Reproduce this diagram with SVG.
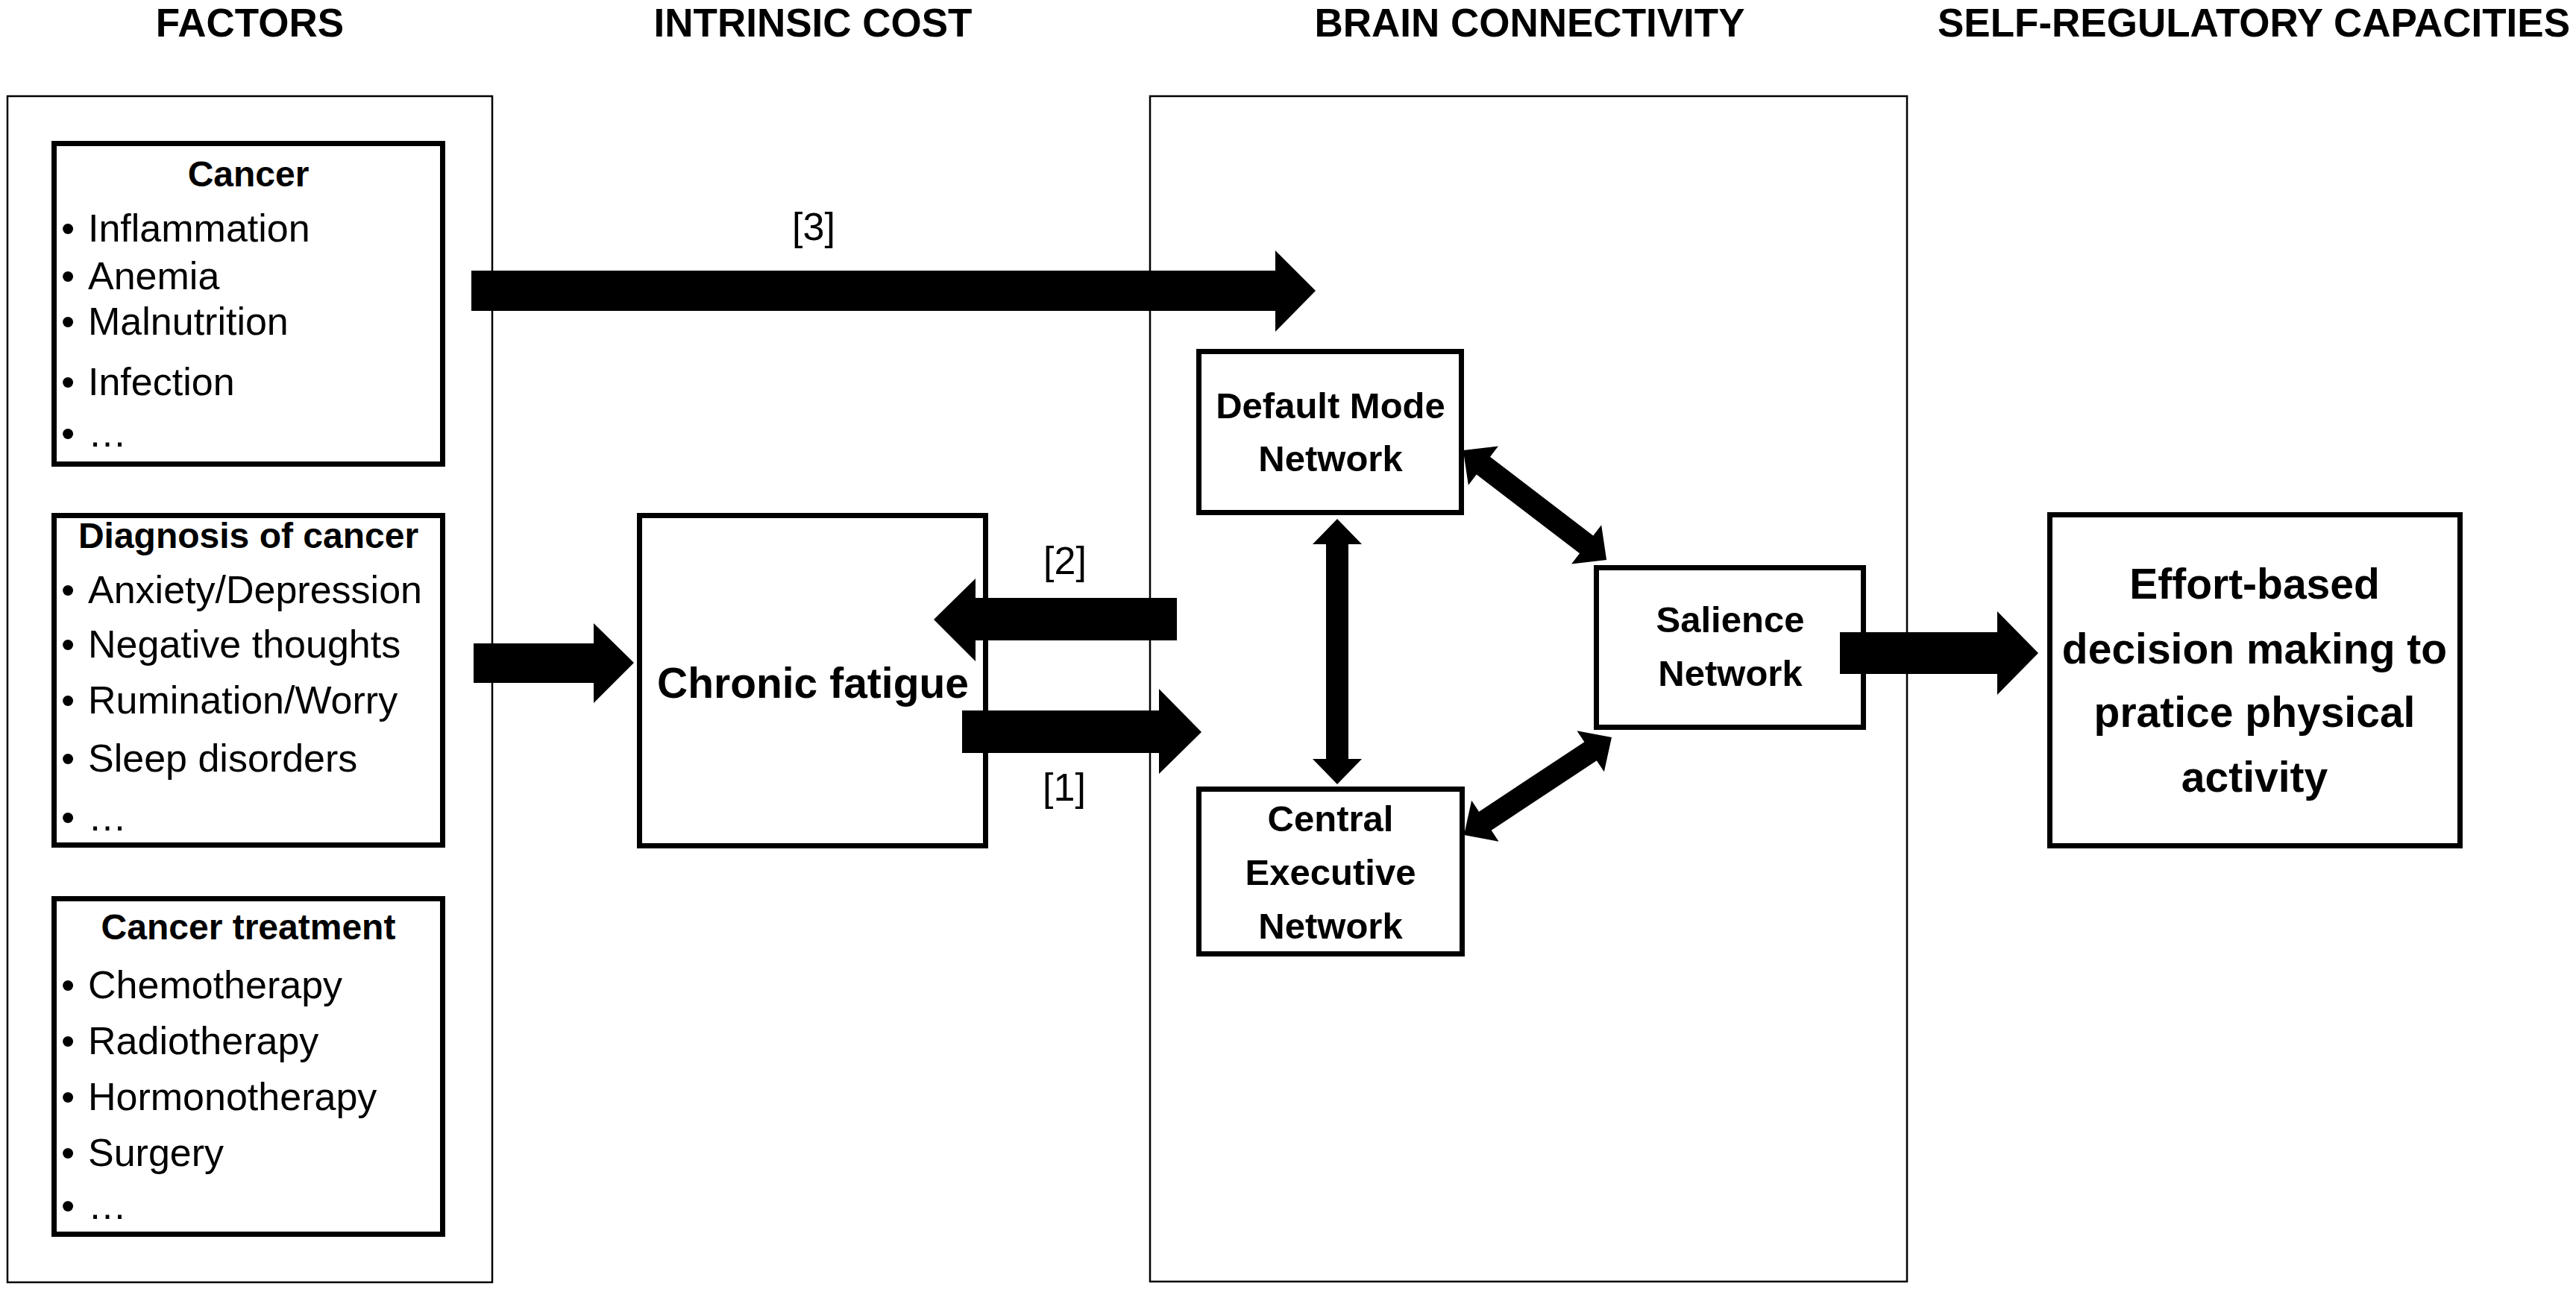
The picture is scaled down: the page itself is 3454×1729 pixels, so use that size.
<svg xmlns="http://www.w3.org/2000/svg" width="3454" height="1729" viewBox="0 0 3454 1729">
<style>
  text { font-family: "Liberation Sans", Arial, sans-serif; fill: #000; }
  .col { font-size: 53px; font-weight: bold; text-anchor: middle; }
  .hd { font-size: 48px; font-weight: bold; text-anchor: middle; }
  .it { font-size: 52px; }
  .lbl { font-size: 52px; text-anchor: middle; }
  .net { font-size: 49px; font-weight: bold; text-anchor: middle; }
  .big { font-size: 57px; font-weight: bold; text-anchor: middle; }
  .outer { fill: none; stroke: #000; stroke-width: 2.5; }
  .box { fill: #fff; stroke: #000; stroke-width: 7; }
  .arr { fill: #000; stroke: none; }
</style>
<rect width="3454" height="1729" fill="#fff"/>

<g id="column-titles">
  <text class="col" x="335" y="49">FACTORS</text>
  <text class="col" x="1090" y="49">INTRINSIC COST</text>
  <text class="col" x="2051" y="49">BRAIN CONNECTIVITY</text>
  <text class="col" x="3022" y="49">SELF-REGULATORY CAPACITIES</text>
</g>

<g id="factors-panel">
  <rect class="outer" x="10" y="129" width="650" height="1591"/>
</g>
<g id="brain-panel">
  <rect class="outer" x="1542" y="129" width="1015" height="1590"/>
</g>

<g id="cancer">
  <rect class="box" x="72.5" y="192.5" width="521" height="430"/>
  <text class="hd" x="333" y="250">Cancer</text>
  <text class="it" y="324"><tspan x="82">•</tspan><tspan x="118">Inflammation</tspan></text>
  <text class="it" y="388"><tspan x="82">•</tspan><tspan x="118">Anemia</tspan></text>
  <text class="it" y="449"><tspan x="82">•</tspan><tspan x="118">Malnutrition</tspan></text>
  <text class="it" y="530"><tspan x="82">•</tspan><tspan x="118">Infection</tspan></text>
  <text class="it" y="599"><tspan x="82">•</tspan><tspan x="118">…</tspan></text>
</g>

<g id="diagnosis">
  <rect class="box" x="72.5" y="691.5" width="521" height="442"/>
  <text class="hd" x="333" y="735">Diagnosis of cancer</text>
  <text class="it" y="809"><tspan x="82">•</tspan><tspan x="118">Anxiety/Depression</tspan></text>
  <text class="it" y="882"><tspan x="82">•</tspan><tspan x="118">Negative thoughts</tspan></text>
  <text class="it" y="957"><tspan x="82">•</tspan><tspan x="118">Rumination/Worry</tspan></text>
  <text class="it" y="1035"><tspan x="82">•</tspan><tspan x="118">Sleep disorders</tspan></text>
  <text class="it" y="1114"><tspan x="82">•</tspan><tspan x="118">…</tspan></text>
</g>

<g id="treatment">
  <rect class="box" x="72.5" y="1205.5" width="521" height="450"/>
  <text class="hd" x="333" y="1260">Cancer treatment</text>
  <text class="it" y="1339"><tspan x="82">•</tspan><tspan x="118">Chemotherapy</tspan></text>
  <text class="it" y="1414"><tspan x="82">•</tspan><tspan x="118">Radiotherapy</tspan></text>
  <text class="it" y="1489"><tspan x="82">•</tspan><tspan x="118">Hormonotherapy</tspan></text>
  <text class="it" y="1564"><tspan x="82">•</tspan><tspan x="118">Surgery</tspan></text>
  <text class="it" y="1635"><tspan x="82">•</tspan><tspan x="118">…</tspan></text>
</g>

<g id="chronic-fatigue">
  <rect class="box" x="857.5" y="691.5" width="464" height="443"/>
  <text class="big" x="1090" y="936">Chronic fatigue</text>
</g>

<g id="dmn">
  <rect class="box" x="1607.5" y="471.5" width="352" height="216"/>
  <text class="net" x="1784" y="561">Default Mode</text>
  <text class="net" x="1784" y="632">Network</text>
</g>

<g id="cen">
  <rect class="box" x="1607.5" y="1058.5" width="353" height="221"/>
  <text class="net" x="1784" y="1115">Central</text>
  <text class="net" x="1784" y="1187">Executive</text>
  <text class="net" x="1784" y="1259">Network</text>
</g>

<g id="salience">
  <rect class="box" x="2140.5" y="761.5" width="358" height="214"/>
  <text class="net" x="2320" y="848">Salience</text>
  <text class="net" x="2320" y="920">Network</text>
</g>

<g id="effort">
  <rect class="box" x="2748.5" y="690.5" width="550" height="444"/>
  <text class="big" x="3023" y="803">Effort-based</text>
  <text class="big" x="3023" y="890">decision making to</text>
  <text class="big" x="3023" y="975">pratice physical</text>
  <text class="big" x="3023" y="1062">activity</text>
</g>

<g id="connectors">
  <!-- [3] Cancer -> brain -->
  <polygon class="arr" points="632,363 1710,363 1710,336 1764,390 1710,445 1710,417 632,417"/>
  <!-- Diagnosis -> Chronic fatigue -->
  <polygon class="arr" points="635,863 796,863 796,836 850,889 796,943 796,916 635,916"/>
  <!-- [2] brain -> Chronic fatigue -->
  <polygon class="arr" points="1578,802 1308,802 1308,776 1252,831 1308,887 1308,859 1578,859"/>
  <!-- [1] Chronic fatigue -> brain -->
  <polygon class="arr" points="1290,953 1554,953 1554,924 1611,982 1554,1038 1554,1010 1290,1010"/>
  <!-- Salience -> Effort -->
  <polygon class="arr" points="2467,848 2678,848 2678,820 2733,876 2678,932 2678,904 2467,904"/>
  <!-- DMN <-> CEN -->
  <polygon class="arr" transform="translate(1793,874) rotate(90)" points="-178,0 -144,-33 -144,-15 144,-15 144,-33 178,0 144,33 144,15 -144,15 -144,33"/>
  <!-- DMN <-> Salience -->
  <polygon class="arr" transform="translate(2058,677.5) rotate(37.4)" points="-121,0 -87,-33 -87,-15 87,-15 87,-33 121,0 87,33 87,15 -87,15 -87,33"/>
  <!-- CEN <-> Salience -->
  <polygon class="arr" transform="translate(2062,1054.5) rotate(-33.5)" points="-118.7,0 -84.7,-33 -84.7,-15 84.7,-15 84.7,-33 118.7,0 84.7,33 84.7,15 -84.7,15 -84.7,33"/>
  <text class="lbl" x="1091" y="322">[3]</text>
  <text class="lbl" x="1428" y="770">[2]</text>
  <text class="lbl" x="1427" y="1074">[1]</text>
</g>
</svg>
